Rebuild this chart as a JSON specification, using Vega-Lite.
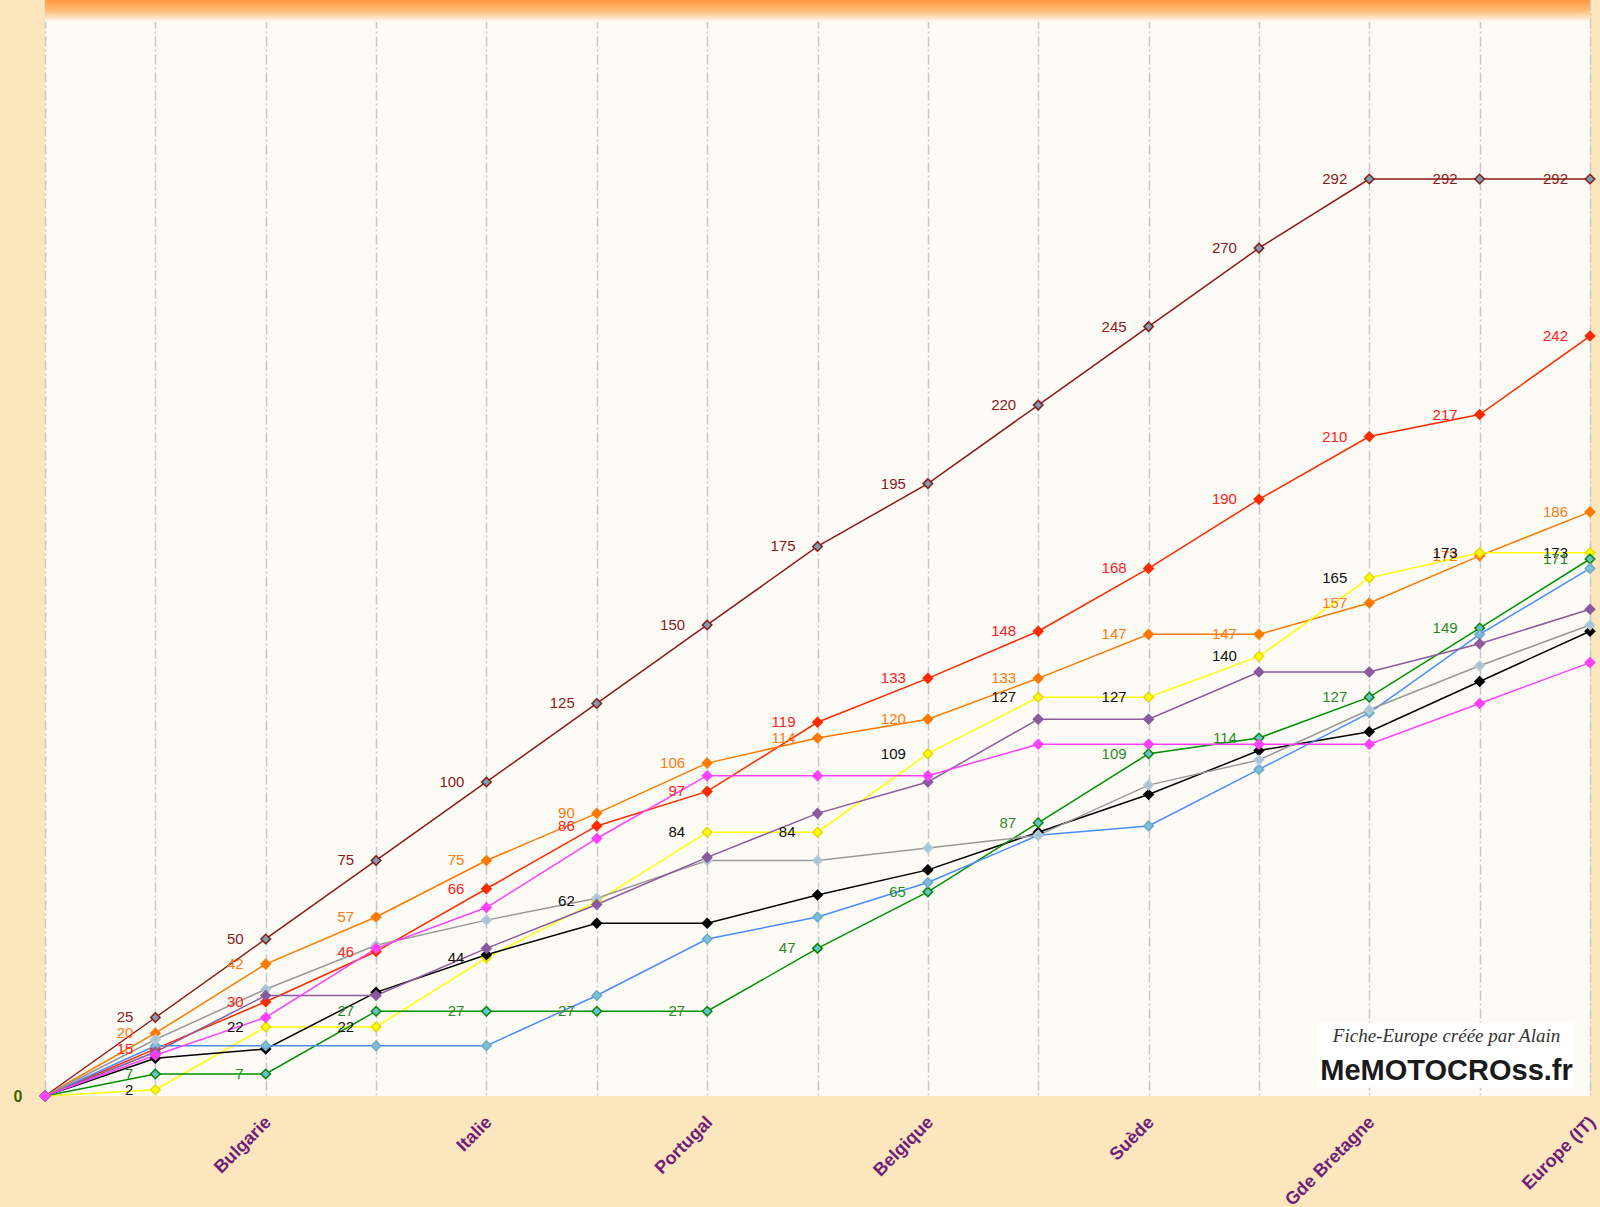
{
  "$schema": "https://vega.github.io/schema/vega-lite/v6.json",
  "autosize": "none",
  "width": 1545,
  "height": 1096,
  "padding": {"left": 45, "top": 0, "right": 10, "bottom": 111},
  "background": "#FBE6BD",
  "config": {"view": {"stroke": null, "fill": "#FDFBF6"}},
  "datasets": {
    "pts": [
      {"s":"A","i":0,"v":0},{"s":"A","i":1,"v":25},{"s":"A","i":2,"v":50},{"s":"A","i":3,"v":75},{"s":"A","i":4,"v":100},{"s":"A","i":5,"v":125},{"s":"A","i":6,"v":150},{"s":"A","i":7,"v":175},{"s":"A","i":8,"v":195},{"s":"A","i":9,"v":220},{"s":"A","i":10,"v":245},{"s":"A","i":11,"v":270},{"s":"A","i":12,"v":292},{"s":"A","i":13,"v":292},{"s":"A","i":14,"v":292},
      {"s":"B","i":0,"v":0},{"s":"B","i":1,"v":15},{"s":"B","i":2,"v":30},{"s":"B","i":3,"v":46},{"s":"B","i":4,"v":66},{"s":"B","i":5,"v":86},{"s":"B","i":6,"v":97},{"s":"B","i":7,"v":119},{"s":"B","i":8,"v":133},{"s":"B","i":9,"v":148},{"s":"B","i":10,"v":168},{"s":"B","i":11,"v":190},{"s":"B","i":12,"v":210},{"s":"B","i":13,"v":217},{"s":"B","i":14,"v":242},
      {"s":"C","i":0,"v":0},{"s":"C","i":1,"v":20},{"s":"C","i":2,"v":42},{"s":"C","i":3,"v":57},{"s":"C","i":4,"v":75},{"s":"C","i":5,"v":90},{"s":"C","i":6,"v":106},{"s":"C","i":7,"v":114},{"s":"C","i":8,"v":120},{"s":"C","i":9,"v":133},{"s":"C","i":10,"v":147},{"s":"C","i":11,"v":147},{"s":"C","i":12,"v":157},{"s":"C","i":13,"v":172},{"s":"C","i":14,"v":186},
      {"s":"D","i":0,"v":0},{"s":"D","i":1,"v":2},{"s":"D","i":2,"v":22},{"s":"D","i":3,"v":22},{"s":"D","i":4,"v":44},{"s":"D","i":5,"v":62},{"s":"D","i":6,"v":84},{"s":"D","i":7,"v":84},{"s":"D","i":8,"v":109},{"s":"D","i":9,"v":127},{"s":"D","i":10,"v":127},{"s":"D","i":11,"v":140},{"s":"D","i":12,"v":165},{"s":"D","i":13,"v":173},{"s":"D","i":14,"v":173},
      {"s":"E","i":0,"v":0},{"s":"E","i":1,"v":12},{"s":"E","i":2,"v":15},{"s":"E","i":3,"v":33},{"s":"E","i":4,"v":45},{"s":"E","i":5,"v":55},{"s":"E","i":6,"v":55},{"s":"E","i":7,"v":64},{"s":"E","i":8,"v":72},{"s":"E","i":9,"v":84},{"s":"E","i":10,"v":96},{"s":"E","i":11,"v":110},{"s":"E","i":12,"v":116},{"s":"E","i":13,"v":132},{"s":"E","i":14,"v":148},
      {"s":"F","i":0,"v":0},{"s":"F","i":1,"v":7},{"s":"F","i":2,"v":7},{"s":"F","i":3,"v":27},{"s":"F","i":4,"v":27},{"s":"F","i":5,"v":27},{"s":"F","i":6,"v":27},{"s":"F","i":7,"v":47},{"s":"F","i":8,"v":65},{"s":"F","i":9,"v":87},{"s":"F","i":10,"v":109},{"s":"F","i":11,"v":114},{"s":"F","i":12,"v":127},{"s":"F","i":13,"v":149},{"s":"F","i":14,"v":171},
      {"s":"G","i":0,"v":0},{"s":"G","i":1,"v":16},{"s":"G","i":2,"v":16},{"s":"G","i":3,"v":16},{"s":"G","i":4,"v":16},{"s":"G","i":5,"v":32},{"s":"G","i":6,"v":50},{"s":"G","i":7,"v":57},{"s":"G","i":8,"v":68},{"s":"G","i":9,"v":83},{"s":"G","i":10,"v":86},{"s":"G","i":11,"v":104},{"s":"G","i":12,"v":122},{"s":"G","i":13,"v":147},{"s":"G","i":14,"v":168},
      {"s":"H","i":0,"v":0},{"s":"H","i":1,"v":18},{"s":"H","i":2,"v":34},{"s":"H","i":3,"v":48},{"s":"H","i":4,"v":56},{"s":"H","i":5,"v":63},{"s":"H","i":6,"v":75},{"s":"H","i":7,"v":75},{"s":"H","i":8,"v":79},{"s":"H","i":9,"v":83},{"s":"H","i":10,"v":99},{"s":"H","i":11,"v":107},{"s":"H","i":12,"v":123},{"s":"H","i":13,"v":137},{"s":"H","i":14,"v":150},
      {"s":"I","i":0,"v":0},{"s":"I","i":1,"v":14},{"s":"I","i":2,"v":32},{"s":"I","i":3,"v":32},{"s":"I","i":4,"v":47},{"s":"I","i":5,"v":61},{"s":"I","i":6,"v":76},{"s":"I","i":7,"v":90},{"s":"I","i":8,"v":100},{"s":"I","i":9,"v":120},{"s":"I","i":10,"v":120},{"s":"I","i":11,"v":135},{"s":"I","i":12,"v":135},{"s":"I","i":13,"v":144},{"s":"I","i":14,"v":155},
      {"s":"J","i":0,"v":0},{"s":"J","i":1,"v":13},{"s":"J","i":2,"v":25},{"s":"J","i":3,"v":47},{"s":"J","i":4,"v":60},{"s":"J","i":5,"v":82},{"s":"J","i":6,"v":102},{"s":"J","i":7,"v":102},{"s":"J","i":8,"v":102},{"s":"J","i":9,"v":112},{"s":"J","i":10,"v":112},{"s":"J","i":11,"v":112},{"s":"J","i":12,"v":112},{"s":"J","i":13,"v":125},{"s":"J","i":14,"v":138}
    ]
  },
  "layer": [
    {
      "data": {"name": "pts"},
      "mark": {"type": "line", "strokeWidth": 1.5},
      "encoding": {
        "x": {
          "field": "i", "type": "quantitative",
          "scale": {"domain": [0, 14], "nice": false, "zero": false},
          "axis": {
            "title": null,
            "values": [0,1,2,3,4,5,6,7,8,9,10,11,12,13,14],
            "labelExpr": "['','','Bulgarie','','Italie','','Portugal','','Belgique','','Suède','','Gde Bretagne','','Europe (IT)'][datum.value]",
            "labelAngle": -45,
            "labelFont": "Liberation Sans",
            "labelFontSize": 18,
            "labelFontWeight": "bold",
            "labelColor": "#701E7A",
            "labelPadding": 17,
            "labelOffset": -4,
            "labelOverlap": false,
            "labelFlush": false,
            "ticks": false,
            "domain": false,
            "grid": true,
            "gridColor": "#C8C8C8",
            "gridWidth": 1.5,
            "gridDash": [10, 3, 2, 3]
          }
        },
        "y": {
          "field": "v", "type": "quantitative",
          "scale": {"domain": [0, 349], "nice": false},
          "axis": {
            "title": null,
            "values": [0],
            "labelFont": "Liberation Sans",
            "labelFontSize": 16,
            "labelFontWeight": "bold",
            "labelColor": "#3E6400",
            "labelPadding": 23,
            "ticks": false,
            "domain": false,
            "grid": false
          }
        },
        "color": {
          "field": "s", "type": "nominal", "legend": null,
          "scale": {"domain": ["A","B","C","D","E","F","G","H","I","J"],
                    "range": ["#8B1A1A","#FF2A00","#FF7A00","#FFFF00","#000000","#009000","#4A8CFF","#999999","#8B5A9E","#FF40FF"]}
        }
      }
    },
    {
      "data": {"values": [{}]},
      "mark": {"type": "rect", "color": {"gradient": "linear", "x1": 0, "y1": 0, "x2": 0, "y2": 1, "stops": [{"offset": 0, "color": "#FF9A3C"}, {"offset": 0.5, "color": "#FFBE7A"}, {"offset": 1, "color": "#FDFBF6"}]}},
      "encoding": {
        "x": {"datum": 0, "type": "quantitative"},
        "x2": {"datum": 14},
        "y": {"datum": 349, "type": "quantitative"},
        "y2": {"datum": 342}
      }
    },
    {
      "data": {"values": [{}]},
      "mark": {"type": "rect", "fill": "#FFFFFF"},
      "encoding": {
        "x": {"datum": 11.53, "type": "quantitative"},
        "x2": {"datum": 13.86},
        "y": {"datum": 2.6, "type": "quantitative"},
        "y2": {"datum": 23.3}
      }
    },
    {
      "data": {"values": [{}]},
      "mark": {"type": "text", "text": "Fiche-Europe créée par Alain", "font": "Liberation Serif", "fontStyle": "italic", "fontSize": 19, "color": "#333333", "align": "center", "baseline": "middle"},
      "encoding": {
        "x": {"datum": 12.7, "type": "quantitative"},
        "y": {"datum": 19.2, "type": "quantitative"}
      }
    },
    {
      "data": {"values": [{}]},
      "mark": {"type": "text", "text": "MeMOTOCROss.fr", "font": "Liberation Sans", "fontWeight": "bold", "fontSize": 29, "color": "#1A1A1A", "align": "center", "baseline": "middle"},
      "encoding": {
        "x": {"datum": 12.7, "type": "quantitative"},
        "y": {"datum": 8, "type": "quantitative"}
      }
    },
    {
      "data": {"name": "pts"},
      "mark": {"type": "point", "shape": "diamond", "filled": true, "size": 90, "strokeWidth": 1.5, "opacity": 1},
      "encoding": {
        "x": {"field": "i", "type": "quantitative"},
        "y": {"field": "v", "type": "quantitative"},
        "fill": {
          "field": "s", "type": "nominal", "legend": null,
          "scale": {"domain": ["A","B","C","D","E","F","G","H","I","J"],
                    "range": ["#7A9EB0","#FF2A00","#FF7A00","#FFFF00","#000000","#6BBFD0","#7DBEDB","#A8C4D4","#8B5A9E","#FF40FF"]}
        },
        "stroke": {
          "field": "s", "type": "nominal", "legend": null,
          "scale": {"domain": ["A","B","C","D","E","F","G","H","I","J"],
                    "range": ["#8B1A1A","#FF2A00","#FF7A00","#E8D800","#000000","#008A00","#6AAAC8","#B8CCD8","#8B5A9E","#FF40FF"]}
        }
      }
    },
    {
      "data": {"name": "pts"},
      "transform": [{"filter": "datum.i > 0 && indexof(['A','B','C','D','F'], datum.s) >= 0"}],
      "mark": {"type": "text", "align": "right", "baseline": "middle", "dx": -22, "font": "Liberation Sans", "fontSize": 15},
      "encoding": {
        "x": {"field": "i", "type": "quantitative"},
        "y": {"field": "v", "type": "quantitative"},
        "text": {"field": "v", "type": "quantitative"},
        "color": {
          "field": "s", "type": "nominal", "legend": null,
          "scale": {"domain": ["A","B","C","D","F"],
                    "range": ["#8B1A1A","#FF2020","#FF7A10","#111111","#2A8A2A"]}
        }
      }
    }
  ],
  "resolve": {"scale": {"color": "independent", "fill": "independent", "stroke": "independent"}}
}
